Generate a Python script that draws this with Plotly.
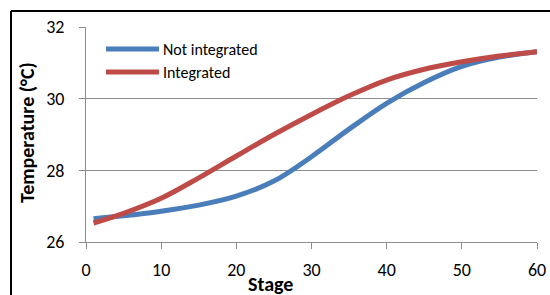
import plotly.graph_objects as go

# ---- data ----
stage = [1, 5, 10, 15, 20, 25, 30, 35, 40, 45, 50, 55, 60]
not_integrated = [26.65, 26.73, 26.86, 27.03, 27.28, 27.70, 28.38, 29.15, 29.87, 30.45, 30.90, 31.16, 31.31]
integrated = [26.53, 26.80, 27.22, 27.79, 28.40, 29.00, 29.56, 30.08, 30.52, 30.82, 31.03, 31.19, 31.31]
series_names = ["Not integrated", "Integrated"]
x_ticks = [0, 10, 20, 30, 40, 50, 60]
y_ticks = [26, 28, 30, 32]

BLUE = "#4A7EBB"
RED = "#BE4B48"
GRID = "#8C8C8C"
FONT = "Carlito, Lato, sans-serif"

W, H = 550, 295
L, R, T, B = 86, 13, 27, 53
PW, PH = W - L - R, H - T - B


def px(xp):
    return (xp - L) / PW


def py(yp):
    return (H - B - yp) / PH


fig = go.Figure()
for name, vals, col in [(series_names[0], not_integrated, BLUE), (series_names[1], integrated, RED)]:
    fig.add_trace(go.Scatter(x=stage, y=vals, mode="lines", name=name,
                             line=dict(color=col, width=5, shape="spline", smoothing=1.0),
                             showlegend=False, hoverinfo="skip"))

shapes = []
annotations = []
# manual legend
for i, (name, col) in enumerate([(series_names[0], BLUE), (series_names[1], RED)]):
    yy = 49 + i * 23
    shapes.append(dict(type="line", xref="paper", yref="paper", x0=px(106), x1=px(159),
                       y0=py(yy), y1=py(yy), line=dict(color=col, width=5)))
    annotations.append(dict(text=name, xref="paper", yref="paper", x=px(161), y=py(yy),
                            xanchor="left", yanchor="middle", showarrow=False,
                            font=dict(family=FONT, size=16, color="#000")))

# outer frame (left and top edges visible)
shapes.append(dict(type="line", xref="paper", yref="paper", x0=px(11), x1=px(11),
                   y0=py(11), y1=py(H + 10), line=dict(color="#000", width=2)))
shapes.append(dict(type="line", xref="paper", yref="paper", x0=px(11), x1=px(W + 10),
                   y0=py(11), y1=py(11), line=dict(color="#000", width=2)))

# axis titles
annotations.append(dict(text="<b>Temperature (°C)</b>", xref="paper", yref="paper",
                        x=px(27), y=py(133), textangle=-90, showarrow=False,
                        xanchor="center", yanchor="middle",
                        font=dict(family=FONT, size=20, color="#000")))
annotations.append(dict(text="<b>Stage</b>", xref="paper", yref="paper",
                        x=px(270), y=py(284), showarrow=False,
                        xanchor="center", yanchor="middle",
                        font=dict(family=FONT, size=20, color="#000")))

fig.update_layout(
    width=W, height=H,
    margin=dict(l=L, r=R, t=T, b=B, pad=0, autoexpand=False),
    paper_bgcolor="white", plot_bgcolor="white",
    shapes=shapes, annotations=annotations,
    font=dict(family=FONT, size=16, color="#000"),
)
fig.update_xaxes(range=[0, 60], tickvals=x_ticks, ticktext=[str(v) for v in x_ticks],
                 automargin=False,
                 showgrid=False, zeroline=False, showline=True, linecolor=GRID, linewidth=1,
                 ticks="outside", ticklen=6, tickcolor=GRID, tickwidth=1,
                 tickfont=dict(family=FONT, size=18, color="#000"), ticklabelstandoff=5)
fig.update_yaxes(range=[26, 32], tickvals=y_ticks, ticktext=[str(v) for v in y_ticks],
                 automargin=False,
                 showgrid=True, gridcolor=GRID, gridwidth=1, zeroline=False,
                 showline=True, linecolor=GRID, linewidth=1,
                 ticks="outside", ticklen=6, tickcolor=GRID, tickwidth=1,
                 tickfont=dict(family=FONT, size=18, color="#000"), ticklabelstandoff=11)

fig.write_html("out.html", config={"displayModeBar": False},
               post_script="document.body.style.margin='0';document.body.style.overflow='hidden';")
